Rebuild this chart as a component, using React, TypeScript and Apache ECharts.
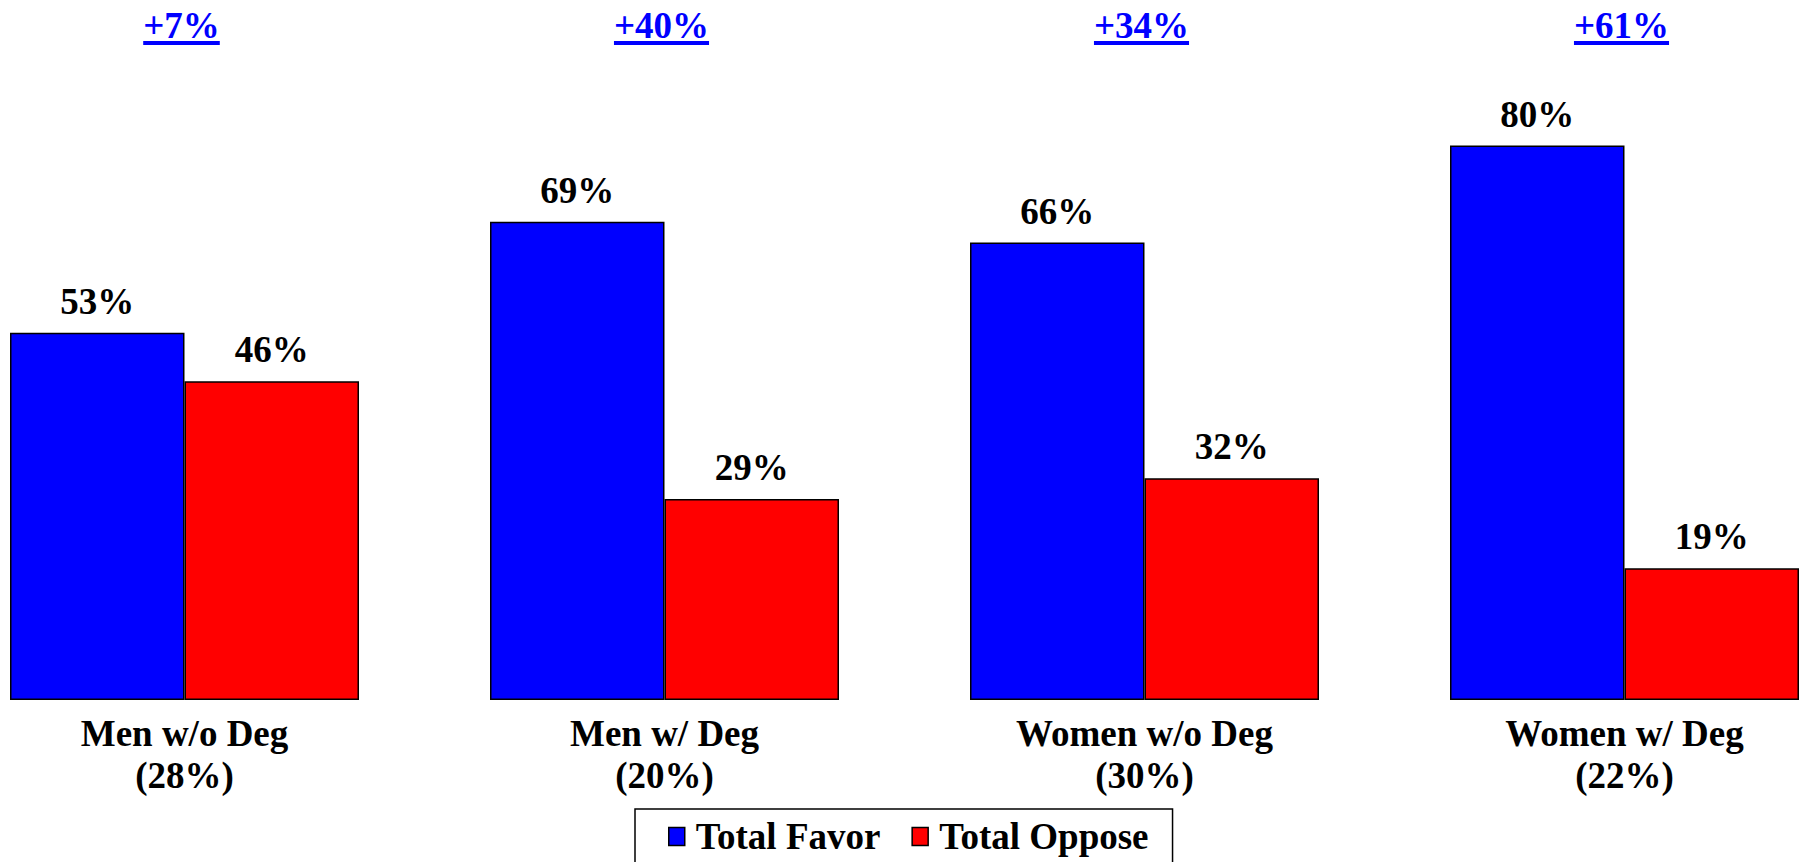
import React, { useEffect, useRef } from "react";
import * as echarts from "echarts";

const categories = ["Men w/o Deg\n(28%)", "Men w/ Deg\n(20%)", "Women w/o Deg\n(30%)", "Women w/ Deg\n(22%)"];
const favorValues = [53, 69, 66, 80];
const opposeValues = [46, 29, 32, 19];
const seriesNames = ["Total Favor", "Total Oppose"];

const FONT = "'Liberation Serif', 'Times New Roman', serif";
const FS = 37;
const DIFF_LEVEL = 97.4;

function measure(text: string, font: string): number {
  const c = document.createElement("canvas");
  const ctx = c.getContext("2d");
  if (!ctx) return text.length * 20;
  ctx.font = font;
  return ctx.measureText(text).width;
}

export default function App() {
  const ref = useRef<HTMLDivElement>(null);
  useEffect(() => {
    document.body.style.margin = "0";
    if (!ref.current) return;
    const chart = echarts.init(ref.current, null, { renderer: "svg" });
    const diffs = favorValues.map((f, i) => [i, f - opposeValues[i]]);
    const diffFont = `bold ${FS}px ${FONT}`;
    const valueLabel = {
      show: true,
      position: "top",
      distance: 13,
      formatter: "{c}%",
      color: "#000",
      fontFamily: FONT,
      fontWeight: "bold",
      fontSize: FS,
    };
    chart.setOption({
      animation: false,
      backgroundColor: "#ffffff",
      grid: { left: 184.5, right: 181.5, top: 7, bottom: 162, containLabel: false },
      xAxis: {
        type: "category",
        data: categories,
        boundaryGap: false,
        axisLine: { show: false },
        axisTick: { show: false },
        splitLine: { show: false },
        axisLabel: {
          interval: 0,
          margin: 12,
          color: "#000",
          fontFamily: FONT,
          fontWeight: "bold",
          fontSize: FS,
          lineHeight: 42,
        },
      },
      yAxis: { type: "value", min: 0, max: 100, show: false, splitLine: { show: false } },
      legend: {
        data: seriesNames,
        left: 635,
        top: 809,
        orient: "horizontal",
        icon: "rect",
        itemWidth: 16,
        itemHeight: 18,
        itemGap: 31,
        borderColor: "#000",
        borderWidth: 1.5,
        padding: [9, 24, 40, 33],
        itemStyle: { borderColor: "#000", borderWidth: 1.5 },
        textStyle: {
          color: "#000",
          fontFamily: FONT,
          fontWeight: "bold",
          fontSize: FS,
          padding: [0, 0, 0, 6],
        },
      },
      series: [
        {
          name: seriesNames[0],
          type: "bar",
          data: favorValues,
          clip: false,
          barWidth: 174.5,
          barGap: "0%",
          itemStyle: { color: "#0000FF", borderColor: "#000", borderWidth: 1.5 },
          label: valueLabel,
        },
        {
          name: seriesNames[1],
          type: "bar",
          data: opposeValues,
          clip: false,
          barWidth: 174.5,
          barGap: "0%",
          itemStyle: { color: "#FF0000", borderColor: "#000", borderWidth: 1.5 },
          label: valueLabel,
        },
        {
          type: "custom",
          data: diffs,
          silent: true,
          clip: false,
          renderItem: (params: any, api: any) => {
            const idx = api.value(0);
            const val = api.value(1);
            const pt = api.coord([idx, DIFF_LEVEL]);
            const text = (val >= 0 ? "+" : "") + val + "%";
            const w = measure(text, diffFont);
            return {
              type: "group",
              children: [
                {
                  type: "text",
                  style: {
                    text,
                    x: pt[0] - 3,
                    y: pt[1],
                    align: "center",
                    verticalAlign: "middle",
                    fill: "#0000FF",
                    font: diffFont,
                  },
                },
                {
                  type: "rect",
                  shape: { x: pt[0] - 3 - w / 2, y: pt[1] + 16, width: w, height: 4 },
                  style: { fill: "#0000FF" },
                },
              ],
            };
          },
        },
      ],
    });
    return () => chart.dispose();
  }, []);
  return <div ref={ref} style={{ width: 1806, height: 862 }} />;
}
